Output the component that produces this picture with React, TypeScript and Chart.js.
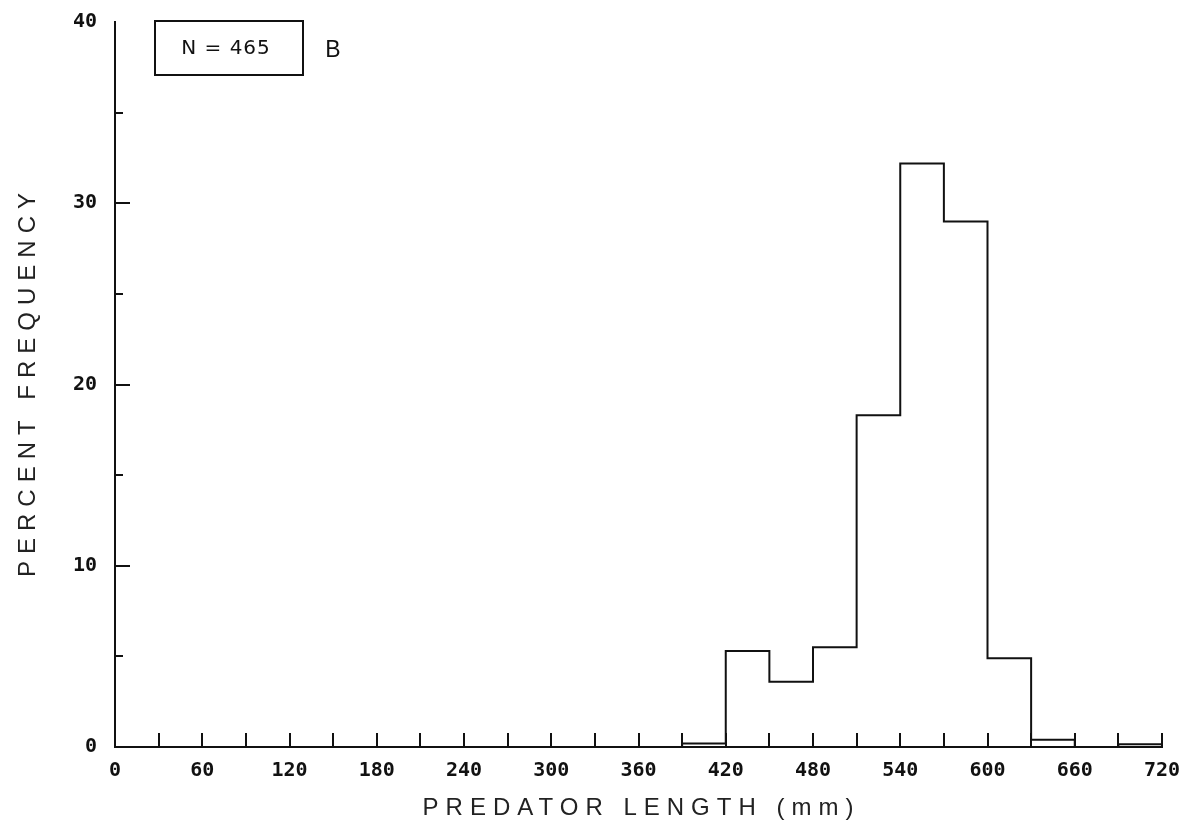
import React, { useEffect, useRef } from 'react';
import { Chart, registerables } from 'chart.js';

Chart.register(...registerables);

// Length classes (mm, lower edge of each 30 mm bin) and percent frequency
const binStarts = [390, 420, 450, 480, 510, 540, 570, 600, 630, 660, 690];
const percentFrequency = [0.2, 5.3, 3.6, 5.5, 18.3, 32.2, 29.0, 4.9, 0.4, 0, 0.15];
const binWidth = 30;

// Axis ticks and labels
const xTickValues = [0, 30, 60, 90, 120, 150, 180, 210, 240, 270, 300, 330, 360, 390, 420, 450, 480, 510, 540, 570, 600, 630, 660, 690, 720];
const xLabelValues = [0, 60, 120, 180, 240, 300, 360, 420, 480, 540, 600, 660, 720];
const yTickValues = [0, 5, 10, 15, 20, 25, 30, 35, 40];
const yLabelValues = [0, 10, 20, 30, 40];

const sampleSize = 465;
const panelLetter = 'B';
const xTitle = 'PREDATOR LENGTH (mm)';
const yTitle = 'PERCENT FREQUENCY';

const TICK_FONT = { family: 'DejaVu Sans Mono', weight: 'bold' as const, size: 20 };

// Inward tick marks, axis titles and the sample-size box
const decorations = {
  id: 'decorations',
  afterDraw(chart: Chart) {
    const { ctx, chartArea } = chart;
    const xs = chart.scales.x;
    const ys = chart.scales.y;
    ctx.save();
    ctx.strokeStyle = '#111';
    ctx.lineWidth = 2;
    ctx.lineCap = 'butt';

    // x ticks point up into the plot
    xTickValues.forEach((v) => {
      if (v === 0) return;
      const px = Math.round(xs.getPixelForValue(v));
      ctx.beginPath();
      ctx.moveTo(px, chartArea.bottom);
      ctx.lineTo(px, chartArea.bottom - 14);
      ctx.stroke();
    });

    // y ticks point right; long at labelled values, short in between
    yTickValues.forEach((v) => {
      if (v === 0 || v === 40) return;
      const py = Math.round(ys.getPixelForValue(v));
      const len = yLabelValues.includes(v) ? 15 : 8;
      ctx.beginPath();
      ctx.moveTo(chartArea.left, py);
      ctx.lineTo(chartArea.left + len, py);
      ctx.stroke();
    });

    // axis titles
    ctx.fillStyle = '#222';
    ctx.font = '24px "Liberation Sans"';
    (ctx as any).letterSpacing = '7px';
    ctx.textAlign = 'center';
    ctx.textBaseline = 'middle';
    ctx.fillText(xTitle, (chartArea.left + chartArea.right) / 2 + 3, 808);
    ctx.save();
    ctx.translate(28, (chartArea.top + chartArea.bottom) / 2);
    ctx.rotate(-Math.PI / 2);
    ctx.fillText(yTitle, 3, 0);
    ctx.restore();

    // sample-size box and panel letter
    ctx.strokeStyle = '#111';
    ctx.lineWidth = 2;
    ctx.strokeRect(155, 21, 148, 54);
    ctx.fillStyle = '#111';
    ctx.font = '20px "DejaVu Sans"';
    (ctx as any).letterSpacing = '1px';
    ctx.fillText(`N = ${sampleSize}`, 226, 49);
    ctx.font = '23px "Liberation Sans"';
    (ctx as any).letterSpacing = '0px';
    ctx.fillText(panelLetter, 333, 51);
    ctx.restore();
  },
};

export default function App() {
  const canvasRef = useRef<HTMLCanvasElement | null>(null);

  useEffect(() => {
    if (!canvasRef.current) return;
    // Histogram outline: baseline start, one step per bin, close back to zero
    const outline = [
      { x: binStarts[0], y: 0 },
      ...binStarts.map((x, i) => ({ x, y: percentFrequency[i] })),
      { x: binStarts[binStarts.length - 1] + binWidth, y: 0 },
    ];

    const chart = new Chart(canvasRef.current, {
      type: 'line',
      data: {
        datasets: [
          {
            data: outline,
            stepped: 'before',
            borderColor: '#111',
            borderWidth: 2,
            pointRadius: 0,
            fill: false,
            clip: 4,
          },
        ],
      },
      options: {
        animation: false,
        responsive: false,
        devicePixelRatio: 1,
        layout: { padding: { left: 0, top: 12, right: 32, bottom: 0 } },
        plugins: { legend: { display: false }, tooltip: { enabled: false } },
        scales: {
          x: {
            type: 'linear',
            min: 0,
            max: 720,
            afterBuildTicks: (s: any) => {
              s.ticks = xTickValues.map((value) => ({ value }));
            },
            afterFit: (s: any) => {
              s.height = 82;
            },
            ticks: {
              autoSkip: false,
              maxRotation: 0,
              padding: 4,
              color: '#111',
              font: TICK_FONT,
              callback: (v: any) => (xLabelValues.includes(Number(v)) ? String(v) : ''),
            },
            grid: { display: false },
            border: { display: true, color: '#111', width: 2 },
          },
          y: {
            type: 'linear',
            min: 0,
            max: 40,
            afterBuildTicks: (s: any) => {
              s.ticks = yTickValues.map((value) => ({ value }));
            },
            afterFit: (s: any) => {
              s.width = 115;
            },
            ticks: {
              autoSkip: false,
              padding: 10,
              color: '#111',
              font: TICK_FONT,
              callback: (v: any) => (yLabelValues.includes(Number(v)) ? String(v) : ''),
            },
            grid: { display: false },
            border: { display: true, color: '#111', width: 2 },
          },
        },
      },
      plugins: [decorations],
    });
    return () => chart.destroy();
  }, []);

  return (
    <div style={{ position: 'absolute', left: 0, top: 0, width: 1194, height: 829, background: '#fff' }}>
      <canvas ref={canvasRef} width={1194} height={829} style={{ display: 'block' }} />
    </div>
  );
}
